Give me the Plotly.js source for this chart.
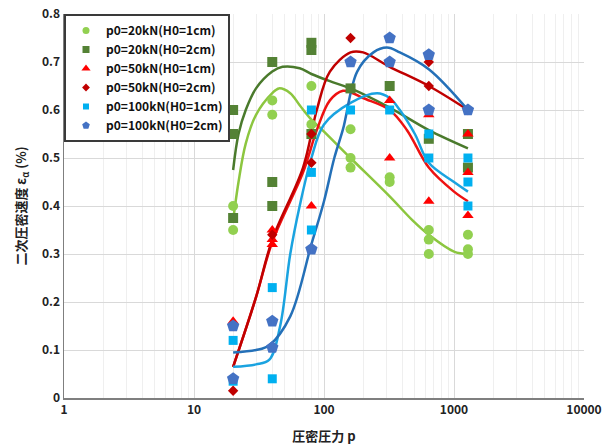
<!DOCTYPE html>
<html><head><meta charset="utf-8">
<script src="https://cdn.plot.ly/plotly-3.0.1.min.js"></script>
<style>html,body{margin:0;padding:0;background:#fff}#chart{width:604px;height:447px}</style>
</head><body><div id="chart"></div>
<script>
// ---- measured points (pressure p, rate) ----
const names = ["p0=20kN(H0=1cm)","p0=20kN(H0=2cm)","p0=50kN(H0=1cm)","p0=50kN(H0=2cm)","p0=100kN(H0=1cm)","p0=100kN(H0=2cm)"];
const s1x = [20,20,40,40,80,80,160,160,160,320,320,640,640,640,1280,1280,1280];
const s1y = [0.40,0.35,0.62,0.59,0.65,0.57,0.56,0.50,0.48,0.46,0.45,0.35,0.33,0.30,0.34,0.31,0.30];
const s2x = [20,20,20,40,40,40,80,80,80,160,320,640,1280,1280];
const s2y = [0.60,0.55,0.375,0.70,0.45,0.40,0.74,0.725,0.55,0.645,0.65,0.54,0.55,0.48];
const s3x = [20,40,40,40,80,320,320,640,640,1280,1280,1280];
const s3y = [0.16,0.35,0.33,0.32,0.40,0.62,0.50,0.59,0.41,0.55,0.47,0.38];
const s4x = [20,20,40,80,80,160,320,640,640,1280];
const s4y = [0.015,0.15,0.34,0.55,0.49,0.75,0.70,0.70,0.65,0.60];
const s5x = [20,20,40,40,80,80,80,160,320,640,640,1280,1280,1280];
const s5y = [0.12,0.035,0.23,0.04,0.60,0.47,0.35,0.60,0.60,0.55,0.50,0.50,0.45,0.40];
const s6x = [20,20,40,40,80,160,320,320,640,640,1280];
const s6y = [0.15,0.04,0.16,0.105,0.31,0.70,0.75,0.70,0.715,0.60,0.60];

// ---- fitted trend curves ----
const f1x = [20,22,25,30,40,45,55,65,80,100,160,320,480,640,1000,1280];
const f1y = [0.37,0.45,0.53,0.59,0.635,0.645,0.635,0.61,0.58,0.555,0.50,0.42,0.37,0.34,0.305,0.30];
const f2x = [20,22,25,30,40,48,65,80,111,160,320,640,1280];
const f2y = [0.475,0.55,0.60,0.645,0.68,0.69,0.687,0.675,0.66,0.645,0.605,0.558,0.52];
const f3x = [20,30,40,69,88,111,140,160,200,320,435,640,1000,1280];
const f3y = [0.065,0.21,0.325,0.47,0.558,0.62,0.64,0.637,0.625,0.60,0.558,0.48,0.43,0.41];
const f4x = [20,30,40,69,88,111,160,200,320,640,1280];
const f4y = [0.065,0.21,0.33,0.48,0.60,0.68,0.72,0.72,0.69,0.65,0.60];
const f5x = [20,30,38,46,55,65,80,100,160,256,320,383,500,640,1000,1280];
const f5y = [0.065,0.07,0.08,0.15,0.30,0.40,0.50,0.57,0.615,0.635,0.625,0.60,0.55,0.49,0.45,0.43];
const f6x = [20,30,38,55,80,100,120,140,180,240,305,383,640,1280];
const f6y = [0.095,0.10,0.11,0.17,0.32,0.41,0.50,0.56,0.68,0.72,0.73,0.72,0.685,0.60];

const xTicks = [1,10,100,1000,10000];
const xTickText = ["1","10","100","1000","10000"];
const yTicks = [0,0.1,0.2,0.3,0.4,0.5,0.6,0.7,0.8];
const yTickText = ["0","0.1","0.2","0.3","0.4","0.5","0.6","0.7","0.8"];

const FONT = "Noto Sans CJK JP, Noto Sans, sans-serif";
const markerColors = ["#92d050","#548235","#ff0000","#c00000","#00b0f0","#4472c4"];
const lineColors = ["#8cc63f","#4a7a2c","#ee1111","#c00000","#1aa3e0","#2470b8"];
const symbols = ["circle","square","triangle-up","diamond","square","pentagon"];
const sizes = [10,10,10,8,9,13];
const legendSizes = [7,7,8,6,6,8];

const fits = [[f1x,f1y],[f2x,f2y],[f3x,f3y],[f4x,f4y],[f5x,f5y],[f6x,f6y]];
const pts = [[s1x,s1y],[s2x,s2y],[s3x,s3y],[s4x,s4y],[s5x,s5y],[s6x,s6y]];

const traces = [];
fits.forEach((f,i)=>{
  traces.push({x:f[0],y:f[1],type:"scatter",mode:"lines",showlegend:false,hoverinfo:"skip",
    line:{color:lineColors[i],width:2.5,shape:"spline",smoothing:1}});
});
pts.forEach((p,i)=>{
  traces.push({x:p[0],y:p[1],type:"scatter",mode:"markers",name:names[i],showlegend:false,legendgroup:"g"+i,
    marker:{symbol:symbols[i],size:sizes[i],color:markerColors[i],line:{width:0}}});
});
// legend entries with the small legend-sized symbols
names.forEach((n,i)=>{
  traces.push({x:[null],y:[null],type:"scatter",mode:"markers",name:n,legendgroup:"g"+i,
    marker:{symbol:symbols[i],size:legendSizes[i],color:markerColors[i],line:{width:0}}});
});

const layout = {
  width:604,height:447,
  margin:{l:64,r:20,t:14,b:49},
  paper_bgcolor:"#fff",plot_bgcolor:"#fff",
  font:{family:FONT,size:12,color:"#222"},
  showlegend:true,
  legend:{x:0.0,y:1.0,xanchor:"left",yanchor:"top",bgcolor:"#fff",bordercolor:"#3a3a3a",borderwidth:2,
    font:{family:FONT,size:12,color:"#111",weight:"bold"},tracegroupgap:0,itemwidth:30},
  xaxis:{type:"log",range:[0,4],tickvals:xTicks,ticktext:xTickText,
    showgrid:true,gridcolor:"#d9d9d9",gridwidth:1,
    minor:{showgrid:true,gridcolor:"#efefef",gridwidth:1,dtick:"D1",ticks:""},
    showline:true,linecolor:"#7f7f7f",linewidth:1.5,ticks:"",zeroline:false,
    tickfont:{family:FONT,size:12,color:"#222",weight:"bold"},
    title:{text:"圧密圧力 p",font:{family:FONT,size:13,color:"#222",weight:"bold"},standoff:16}},
  yaxis:{range:[0,0.8],tickvals:yTicks,ticktext:yTickText,
    showgrid:true,gridcolor:"#d9d9d9",gridwidth:1,
    showline:true,linecolor:"#7f7f7f",linewidth:1.5,ticks:"",zeroline:false,
    tickfont:{family:FONT,size:12,color:"#222",weight:"bold"},
    title:{text:"二次圧密速度 ε<sub>α</sub> (%)",font:{family:FONT,size:13,color:"#222",weight:"bold"},standoff:12}}
};
Plotly.newPlot("chart",traces,layout,{displayModeBar:false,staticPlot:true});
</script></body></html>
